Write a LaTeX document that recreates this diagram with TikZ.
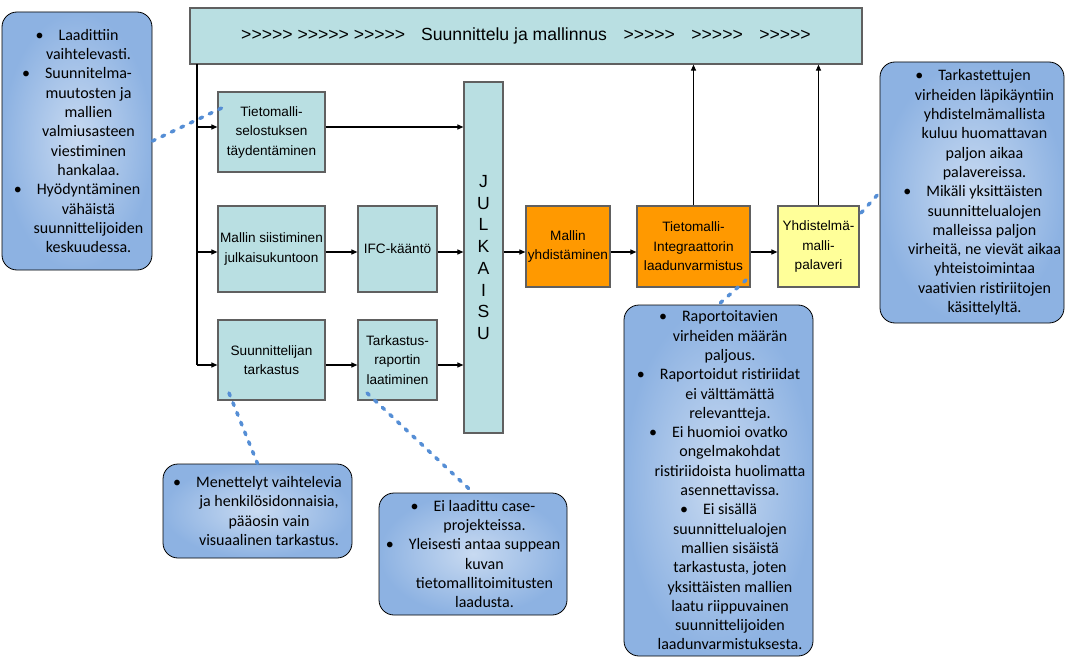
\documentclass[tikz,border=0pt]{standalone}
\usepackage{fontspec}
\setmainfont{Liberation Sans}
\newfontfamily\calibri{Carlito}
\usetikzlibrary{arrows.meta}
\definecolor{boxcyan}{RGB}{185,223,226}
\definecolor{boxline}{RGB}{96,96,96}
\definecolor{boxorange}{RGB}{255,153,0}
\definecolor{boxyellow}{RGB}{255,255,153}
\definecolor{noteout}{RGB}{141,178,226}
\definecolor{notein}{RGB}{200,218,241}
\definecolor{dotblue}{RGB}{85,142,213}
\newcommand\bul{\llap{\textbullet\hspace{15pt}}}
\newcommand\fwd{>\kern0pt>\kern0pt>\kern0pt>\kern0pt>}

\begin{document}
\begin{tikzpicture}[x=1pt,y=-1pt,
  box/.style={shape=rectangle,draw=boxline,line width=1.2pt,fill=boxcyan,align=center,inner sep=0pt,font=\fontsize{13.6}{19.5}\selectfont},
  callout/.style={shape=rectangle,rounded corners=15pt,draw=black,line width=0.8pt,inner color=notein,outer color=noteout},
  note/.style={align=center,inner sep=0pt,font=\calibri\fontsize{16}{19.3}\selectfont},
  arr/.style={-{Triangle[length=6pt,width=5pt]},draw=black,line width=1.1pt},
  dots/.style={draw=dotblue,line width=3.5pt,dash pattern=on 3pt off 7.5pt,line cap=round}]
\useasboundingbox (0,0) rectangle (1069,658);

\node[box,minimum width=672,minimum height=56,font=\fontsize{17.6}{21}\selectfont] (0) at (526,36) {\fwd\ \fwd\ \fwd\hspace{16pt}Suunnittelu ja mallinnus\hspace{16.5pt}\fwd\hspace{16.5pt}\fwd\hspace{16.5pt}\fwd};
\node[box,minimum width=107,minimum height=80] (1) at (271.5,132) {Tietomalli-\\selostuksen\\täydentäminen};
\node[box,minimum width=107,minimum height=86] (2) at (271.5,249) {Mallin siistiminen\\julkaisukuntoon};
\node[box,minimum width=107,minimum height=80] (3) at (271.5,360) {Suunnittelijan\\tarkastus};
\node[box,minimum width=79,minimum height=86] (4) at (397.5,249) {IFC-kääntö};
\node[box,minimum width=79,minimum height=80] (5) at (397.5,360) {Tarkastus-\\raportin\\laatiminen};
\node[box,minimum width=39,minimum height=351,font=\fontsize{17.6}{21.7}\selectfont] (6) at (483.5,257.5) {J\\U\\L\\K\\A\\I\\S\\U};
\node[box,fill=boxorange,minimum width=84,minimum height=81] (7) at (568,246.5) {Mallin\\yhdistäminen};
\node[box,fill=boxorange,minimum width=113,minimum height=81] (8) at (693.5,246.5) {Tietomalli-\\Integraattorin\\laadunvarmistus};
\node[box,fill=boxyellow,minimum width=81,minimum height=81] (9) at (818.5,246.5) {Yhdistelmä-\\malli-\\palaveri};

\coordinate (t0) at (197,64);
\coordinate (t1) at (197,127);
\coordinate (t2) at (197,252);
\coordinate (t3) at (197,365);

\draw[line width=1.1pt] (t0) -- (t3);
\path (t1) edge[arr] (t1 -| 1.west);
\path (t2) edge[arr] (t2 -| 2.west);
\path (t3) edge[arr] (t3 -| 3.west);
\path (1.east |- t1) edge[arr] (t1 -| 6.west);
\path (2.east |- t2) edge[arr] (t2 -| 4.west);
\path (4.east |- t2) edge[arr] (t2 -| 6.west);
\path (3.east |- t3) edge[arr] (t3 -| 5.west);
\path (5.east |- t3) edge[arr] (t3 -| 6.west);
\path (6.east |- t2) edge[arr] (t2 -| 7.west);
\path (7.east |- t2) edge[arr] (t2 -| 8.west);
\path (8.east |- t2) edge[arr] (t2 -| 9.west);
\path (8.north) edge[arr] (8.north |- 0.south);
\path (9.north) edge[arr] (9.north |- 0.south);

\node[callout,minimum width=150,minimum height=258] (10) at (77,141) {};
\node[callout,minimum width=184,minimum height=261] (11) at (972,192.5) {};
\node[callout,minimum width=189,minimum height=94] (12) at (257.5,511) {};
\node[callout,minimum width=188,minimum height=122] (13) at (473,554) {};
\node[callout,minimum width=189,minimum height=351] (14) at (718.5,480.5) {};

\node[note] (15) at ([xshift=11.5pt]10.center) {\bul Laadittiin\\vaihtelevasti.\\\bul Suunnitelma-\\muutosten ja\\mallien\\valmiusasteen\\viestiminen\\hankalaa.\\\bul Hyödyntäminen\\vähäistä\\suunnittelijoiden\\keskuudessa.};
\node[note] (16) at ([xshift=12.5pt]11.center) {\bul Tarkastettujen\\virheiden läpikäyntiin\\yhdistelmämallista\\kuluu huomattavan\\paljon aikaa\\palavereissa.\\\bul Mikäli yksittäisten\\suunnittelualojen\\malleissa paljon\\virheitä, ne vievät aikaa\\yhteistoimintaa\\vaativien ristiriitojen\\käsittelyltä.};
\node[note] (17) at ([xshift=11.5pt]12.center) {\bul Menettelyt vaihtelevia\\ja henkilösidonnaisia,\\pääosin vain\\visuaalinen tarkastus.};
\node[note] (18) at ([xshift=11.5pt]13.center) {\bul Ei laadittu case-\\projekteissa.\\\bul Yleisesti antaa suppean\\kuvan\\tietomallitoimitusten\\laadusta.};
\node[note] (19) at ([xshift=11.5pt]14.center) {\bul Raportoitavien\\virheiden määrän\\paljous.\\\bul Raportoidut ristiriidat\\ei välttämättä\\relevantteja.\\\bul Ei huomioi ovatko\\ongelmakohdat\\ristiriidoista huolimatta\\asennettavissa.\\\bul Ei sisällä\\suunnittelualojen\\mallien sisäistä\\tarkastusta, joten\\yksittäisten mallien\\laatu riippuvainen\\suunnittelijoiden\\laadunvarmistuksesta.};

\coordinate (p1) at (228,105);
\coordinate (p2) at (229,393);
\coordinate (p3) at (367,393);
\coordinate (p4) at (746,280);
\coordinate (p5) at (861,213);

\path [dots] (10.east) edge (p1);
\path [dots] (p2) edge (12.north);
\path [dots] (p3) edge (13.north);
\path [dots] (p4) edge (14.north);
\path [dots] (p5) edge (11.west);
\end{tikzpicture}
\end{document}
